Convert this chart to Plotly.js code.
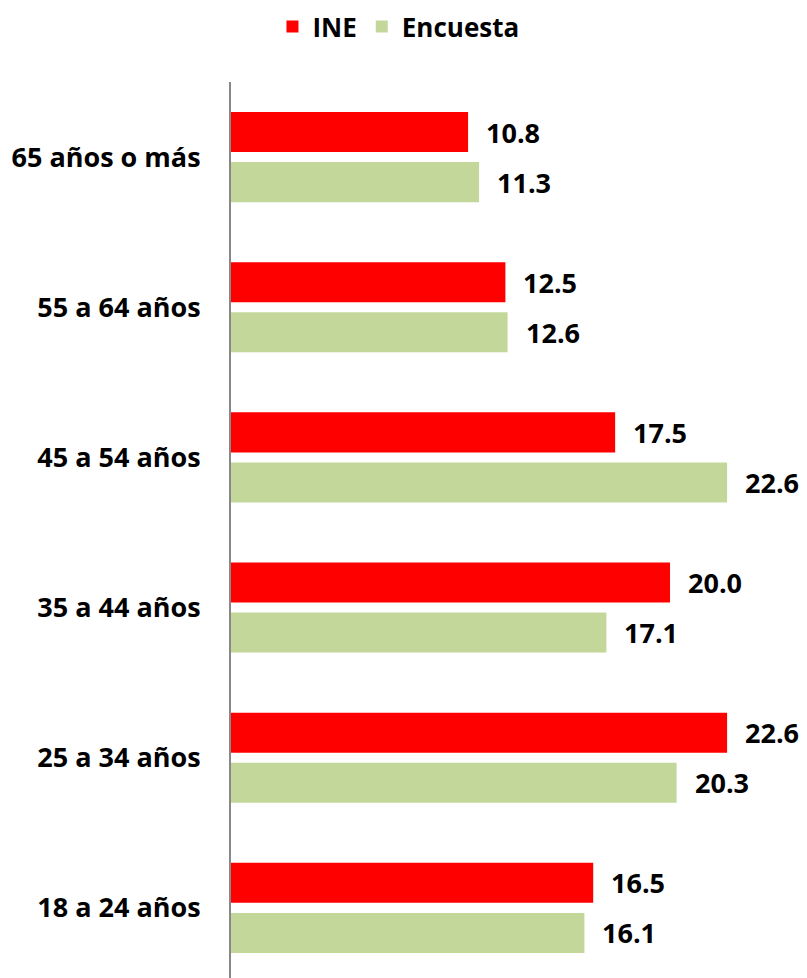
<!DOCTYPE html>
<html><head><meta charset="utf-8">
<script src="https://cdn.plot.ly/plotly-3.0.1.min.js"></script>
<style>body{margin:0;background:#fff}#c{width:807px;height:978px}</style>
</head><body><div id="c"></div>
<script>
const categories = ['65 años o más','55 a 64 años','45 a 54 años','35 a 44 años','25 a 34 años','18 a 24 años'];
const ine = [10.8, 12.5, 17.5, 20.0, 22.6, 16.5];
const encuesta = [11.3, 12.6, 22.6, 17.1, 20.3, 16.1];
const seriesNames = ['INE','Encuesta'];
const colors = ['#FF0000','#C4D79B'];
const FONT = 'Open Sans, sans-serif';

const traces = [ine, encuesta].map((vals, i) => ({
  type: 'bar', orientation: 'h', name: seriesNames[i],
  x: vals, y: categories, marker: {color: colors[i]},
  hoverinfo: 'none'
}));

const annotations = [];
[ine, encuesta].forEach((vals, i) => {
  vals.forEach((v, j) => {
    annotations.push({
      x: v, y: categories[j], xref: 'x', yref: 'y',
      text: v.toFixed(1), showarrow: false,
      xanchor: 'left', yanchor: 'middle',
      xshift: 16, yshift: i === 0 ? 25 : -25,
      font: {family: FONT, size: 27, color: '#000', weight: 'bold'}
    });
  });
});

const layout = {
  width: 807, height: 978,
  margin: {l: 231, r: 0, t: 82, b: 0},
  paper_bgcolor: '#fff', plot_bgcolor: '#fff',
  barmode: 'group', bargap: 1/3, bargroupgap: 0.2,
  showlegend: true,
  legend: {orientation: 'h', x: 0.072, xanchor: 'left', y: 1.088, yanchor: 'top',
    font: {family: FONT, size: 26, color: '#000', weight: 'bold'}, itemwidth: 30},
  xaxis: {range: [0, 26.24], visible: false, fixedrange: true},
  yaxis: {type: 'category', categoryorder: 'array', categoryarray: categories,
    range: [5.467, -0.5], showline: true, linecolor: '#888', linewidth: 2,
    ticks: '', showgrid: false, zeroline: false, ticklabelstandoff: 23,
    tickfont: {family: FONT, size: 27, color: '#000', weight: 'bold'}},
  annotations: annotations
};
Plotly.newPlot('c', traces, layout, {staticPlot: true});
</script></body></html>
